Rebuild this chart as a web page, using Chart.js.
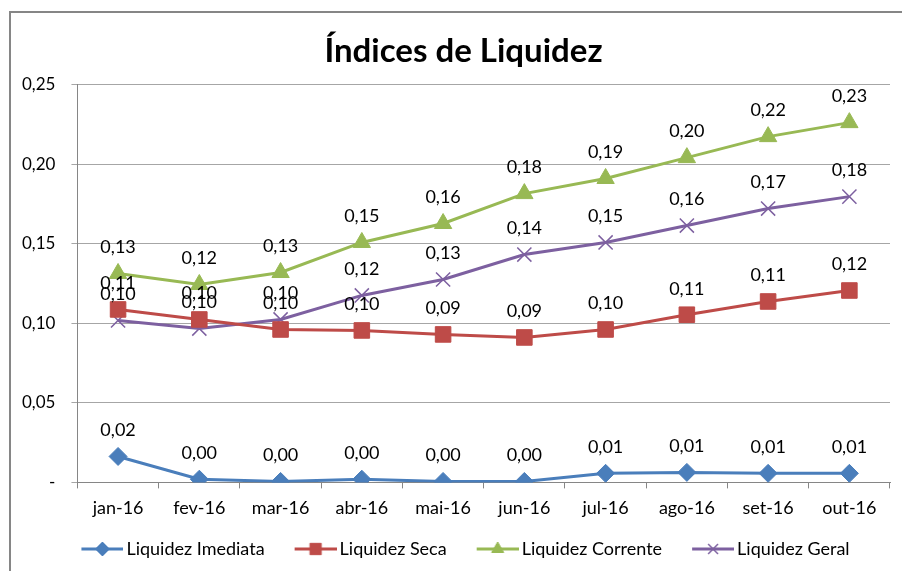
<!DOCTYPE html>
<html>
<head>
<meta charset="utf-8">
<script src="https://cdn.jsdelivr.net/npm/chart.js@4"></script>
<style>
  html, body { margin: 0; padding: 0; background: #fff; }
  #wrap { width: 902px; height: 571px; position: relative; }
</style>
</head>
<body>
<div id="wrap"><canvas id="chart"></canvas></div>
<script>
// --- data ---
const months = ["jan-16", "fev-16", "mar-16", "abr-16", "mai-16", "jun-16", "jul-16", "ago-16", "set-16", "out-16"];
const imediata = [0.0163, 0.0020, 0.0006, 0.0020, 0.0006, 0.0006, 0.0057, 0.0063, 0.0057, 0.0057];
const seca     = [0.1087, 0.1024, 0.0961, 0.0955, 0.0930, 0.0911, 0.0961, 0.1054, 0.1137, 0.1206];
const corrente = [0.1313, 0.1244, 0.1319, 0.1508, 0.1627, 0.1815, 0.1910, 0.2041, 0.2173, 0.2261];
const geral    = [0.1018, 0.0967, 0.1024, 0.1175, 0.1275, 0.1432, 0.1508, 0.1614, 0.1721, 0.1796];

const FONT = "Lato, 'Open Sans', sans-serif";
const fmt = v => v.toFixed(2).replace(".", ",");

// little line+marker picture for the legend
// (wider than the legend box so the line sits close to the text)
function legendIcon(color, style, r) {
  const c = document.createElement("canvas");
  c.width = 66; c.height = 20;
  const g = c.getContext("2d");
  g.strokeStyle = color; g.fillStyle = color; g.lineWidth = 3;
  g.beginPath(); g.moveTo(24, 10); g.lineTo(66, 10); g.stroke();
  g.lineWidth = style === "crossRot" ? 1.5 : 1;
  Chart.helpers.drawPoint(g, { pointStyle: style, radius: r, borderWidth: g.lineWidth, rotation: 0 }, 45, 10);
  return c;
}

// gray frame like the Excel chart box
const framePlugin = {
  id: "frame",
  beforeDraw(chart) {
    const ctx = chart.ctx;
    ctx.save();
    ctx.strokeStyle = "#868686";
    ctx.lineWidth = 2;
    ctx.beginPath();
    ctx.moveTo(10, 571); ctx.lineTo(10, 12); ctx.lineTo(902, 12);
    ctx.stroke();
    ctx.restore();
  }
};

// title and legend sit a bit right of the canvas centre in the original
const nudgePlugin = {
  id: "nudge",
  afterLayout(chart) {
    chart.titleBlock.left += 12; chart.titleBlock.right += 12;
    chart.legend.left += 5; chart.legend.right += 5;
  }
};

// value labels above the points
const valueLabels = {
  id: "valueLabels",
  afterDatasetsDraw(chart) {
    const ctx = chart.ctx;
    ctx.save();
    ctx.font = "18px " + FONT;
    ctx.fillStyle = "#000";
    ctx.textAlign = "center";
    ctx.textBaseline = "middle";
    chart.data.datasets.forEach((ds, i) => {
      chart.getDatasetMeta(i).data.forEach((pt, j) => {
        ctx.fillText(fmt(ds.data[j]), pt.x, pt.y - 26);
      });
    });
    ctx.restore();
  }
};

const series = [
  { label: "Liquidez Imediata", data: imediata, color: "#4a7ebb", style: "rectRot",  r: 9 },
  { label: "Liquidez Seca",     data: seca,     color: "#be4b48", style: "rect",     r: 11 },
  { label: "Liquidez Corrente", data: corrente, color: "#98b954", style: "triangle", r: 10 },
  { label: "Liquidez Geral",    data: geral,    color: "#7d60a0", style: "crossRot", r: 10 }
];

new Chart(document.getElementById("chart"), {
  type: "line",
  data: {
    labels: months,
    datasets: series.map(s => ({
      label: s.label,
      data: s.data,
      borderColor: s.color,
      backgroundColor: s.color,
      borderWidth: 3,
      pointStyle: s.style,
      pointRadius: s.r,
      pointBorderWidth: s.style === "crossRot" ? 1.5 : 1,
      pointBorderColor: s.color,
      pointBackgroundColor: s.color,
      tension: 0,
      icon: legendIcon(s.color, s.style, s.style === "rect" ? 8 : 7)
    }))
  },
  options: {
    responsive: true,
    maintainAspectRatio: false,
    animation: false,
    layout: { padding: { left: 6, right: 5, top: 18, bottom: 3 } },
    plugins: {
      title: {
        display: true,
        text: "Índices de Liquidez",
        color: "#000",
        font: { family: FONT, size: 33, weight: "bold" },
        padding: { top: 14, bottom: 13 }
      },
      legend: {
        position: "bottom",
        labels: {
          usePointStyle: true,
          pointStyleWidth: 54,
          color: "#000",
          font: { family: FONT, size: 18 },
          padding: 12,
          generateLabels(chart) {
            return chart.data.datasets.map((ds, i) => ({
              text: ds.label,
              pointStyle: ds.icon,
              fillStyle: ds.borderColor,
              strokeStyle: ds.borderColor,
              lineWidth: 0,
              hidden: false,
              datasetIndex: i
            }));
          }
        }
      },
      tooltip: { enabled: false }
    },
    scales: {
      x: {
        offset: true,
        grid: { offset: true, drawOnChartArea: false, tickLength: 6, color: "#868686" },
        border: { color: "#868686" },
        ticks: { color: "#000", font: { family: FONT, size: 18 }, padding: 9 }
      },
      y: {
        min: 0,
        max: 0.25,
        grid: { color: "#a6a6a6", tickLength: 6 },
        border: { color: "#868686" },
        ticks: {
          stepSize: 0.05,
          color: "#000",
          padding: 16,
          font: { family: FONT, size: 17 },
          callback: v => (v === 0 ? "-" : fmt(v))
        }
      }
    }
  },
  plugins: [framePlugin, nudgePlugin, valueLabels]
});
</script>
</body>
</html>
